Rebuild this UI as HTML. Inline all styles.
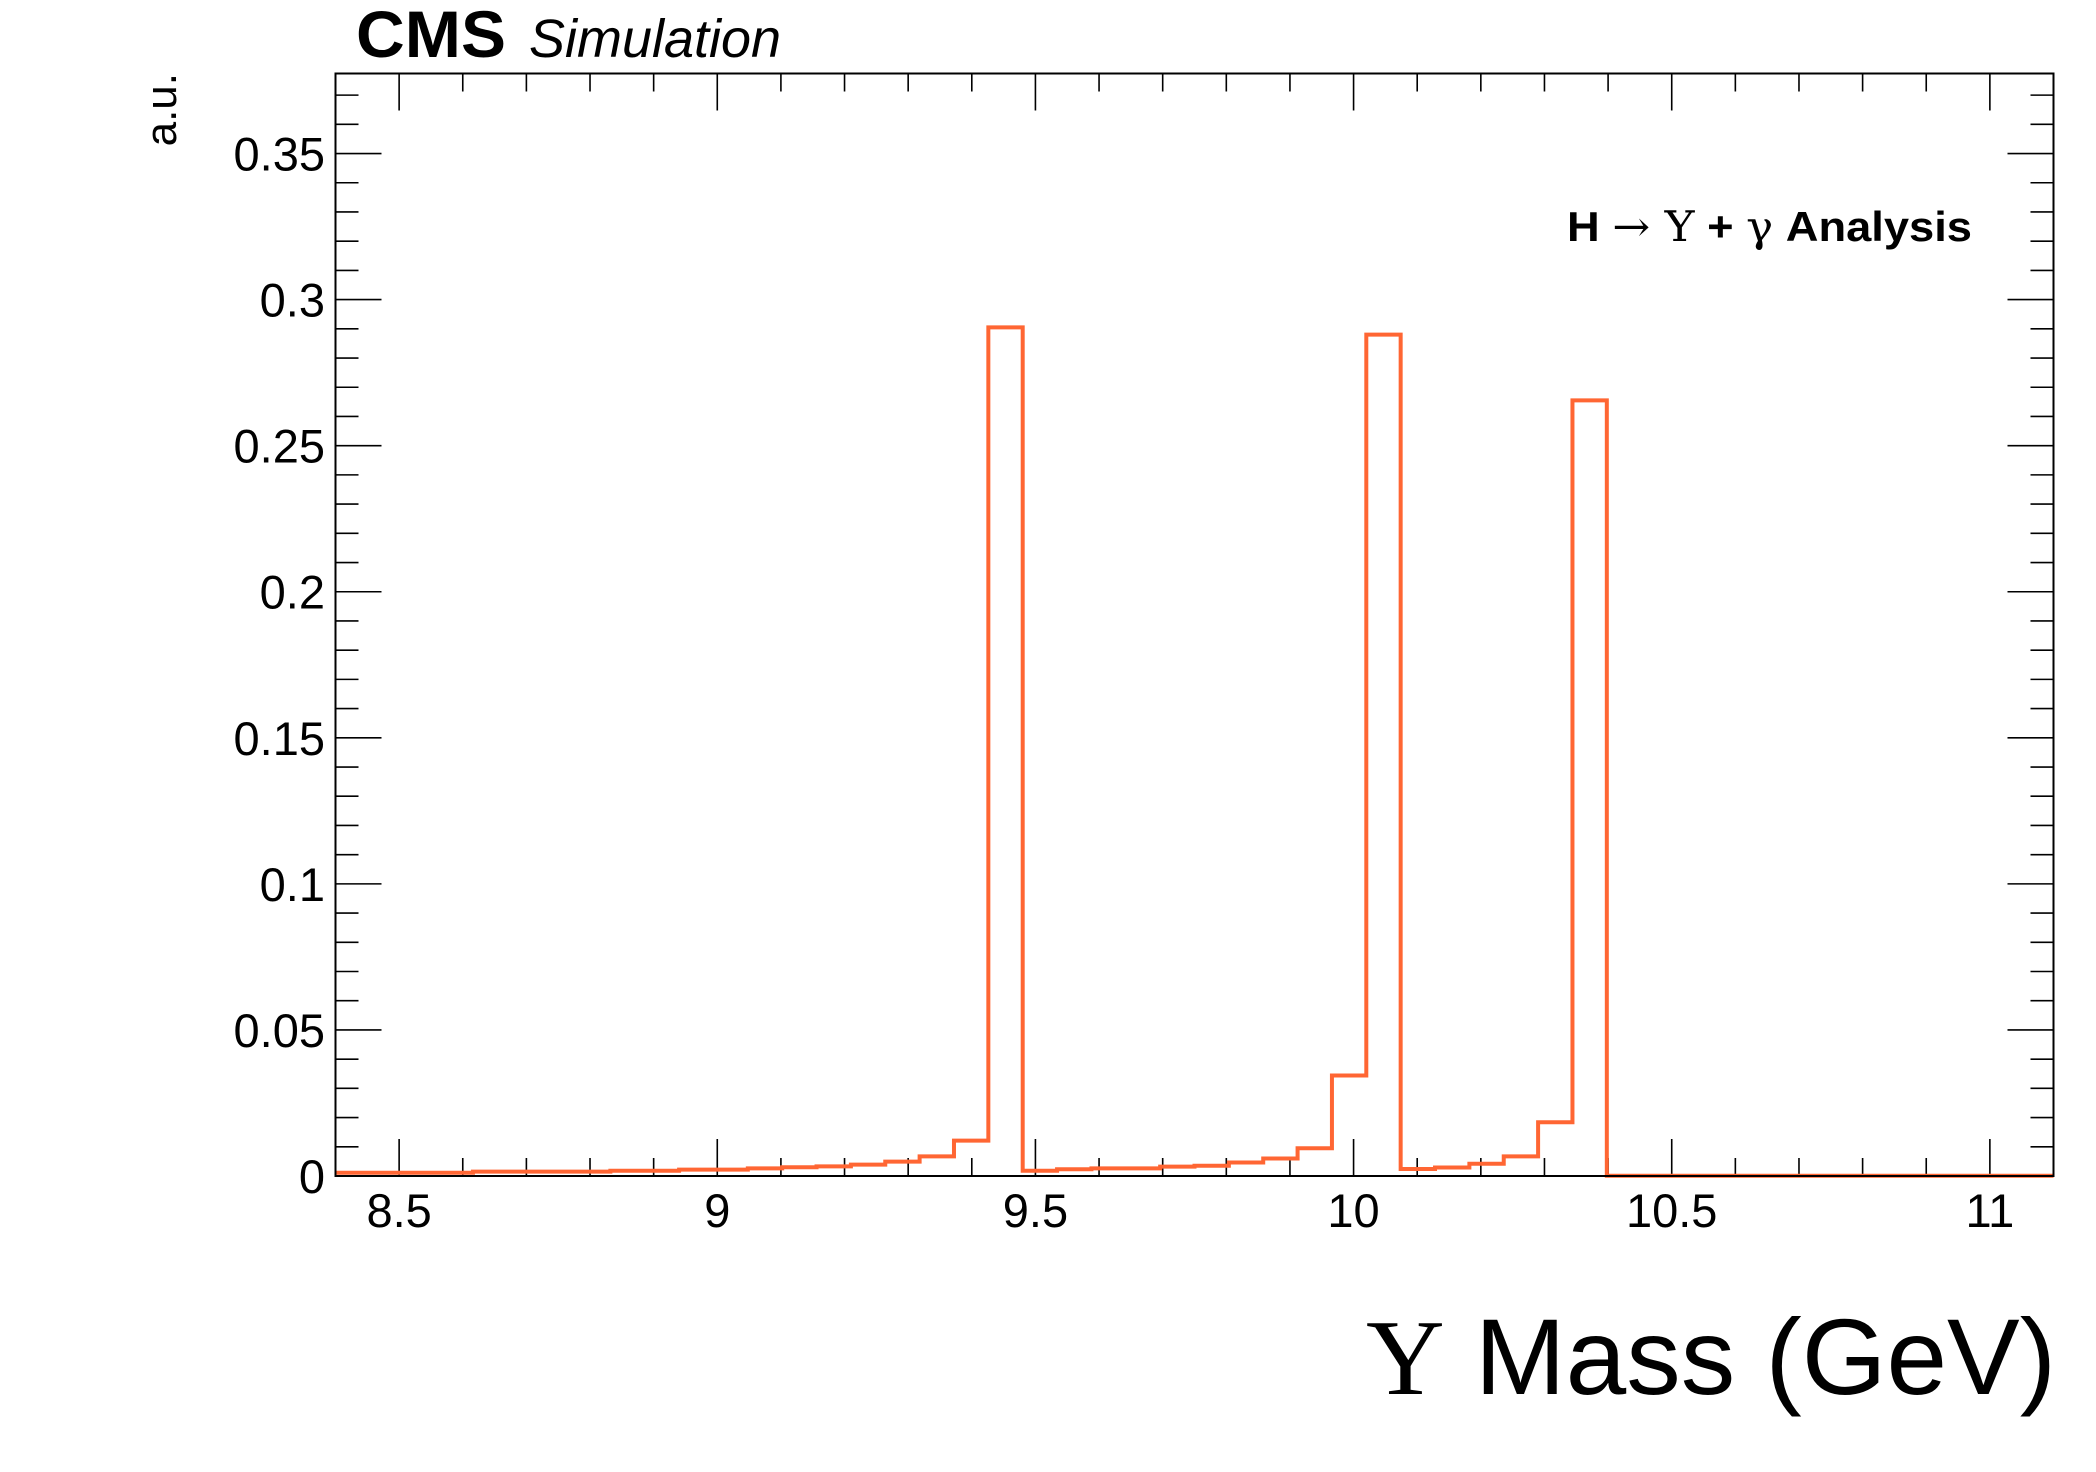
<!DOCTYPE html>
<html><head><meta charset="utf-8"><style>
html,body{margin:0;padding:0;background:#fff;}
svg{display:block;font-family:"Liberation Sans",sans-serif;}
</style></head><body>
<svg id="chart" width="2096" height="1472" viewBox="0 0 2096 1472" xmlns="http://www.w3.org/2000/svg">
<rect x="0" y="0" width="2096" height="1472" fill="#fff"/>
<g id="ticks"></g>
<g id="hist"></g>
<rect x="335.5" y="73.5" width="1718" height="1102.5" fill="none" stroke="#000" stroke-width="2"/>
<g id="labels"></g>
<text x="356" y="57" font-size="66" font-weight="bold" textLength="150" lengthAdjust="spacingAndGlyphs">CMS</text>
<text x="529" y="57" font-size="54" font-style="italic" textLength="252" lengthAdjust="spacingAndGlyphs">Simulation</text>
<text transform="translate(176,73) rotate(-90)" text-anchor="end" font-size="44">a.u.</text>
<text x="1972" y="241" text-anchor="end" font-size="42" font-weight="bold" textLength="405" lengthAdjust="spacingAndGlyphs">H <tspan font-weight="normal" font-family="'DejaVu Serif',serif">→ Υ</tspan> + <tspan font-weight="normal" font-family="'DejaVu Serif',serif">γ</tspan> Analysis</text>
<text x="2056" y="1394" text-anchor="end" font-size="108" textLength="690" lengthAdjust="spacingAndGlyphs"><tspan font-family="'Liberation Serif',serif">Υ</tspan> Mass (GeV)</text>
</svg>
<script>
const binEdgesRange = [8.4, 11.1];
const nBins = 50;
const binValues = [0.0011,0.0011,0.0011,0.0011,0.0015,0.0015,0.0015,0.0015,0.0018,0.0018,
0.0022,0.0022,0.0026,0.0030,0.0033,0.0039,0.0049,0.0067,0.0121,0.2905,
0.0018,0.0023,0.0026,0.0026,0.0032,0.0035,0.0046,0.0060,0.0095,0.0344,
0.2880,0.0024,0.0029,0.0042,0.0067,0.0184,0.2655,0.0001,0.0001,0.0001,
0.0001,0.0001,0.0001,0.0001,0.0001,0.0001,0.0001,0.0001,0.0001,0.0001];
const xTickLabels = ["8.5","9","9.5","10","10.5","11"];
const yTickLabels = ["0","0.05","0.1","0.15","0.2","0.25","0.3","0.35"];
const yRange = [0, 0.3774];

const L=335.5,R=2053.5,T=73.5,B=1176;
const NS="http://www.w3.org/2000/svg";
function X(v){return L+(v-binEdgesRange[0])/(binEdgesRange[1]-binEdgesRange[0])*(R-L);}
function Y(v){return B-(v-yRange[0])/(yRange[1]-yRange[0])*(B-T);}
function mk(tag,attrs,parent){const e=document.createElementNS(NS,tag);for(const k in attrs)e.setAttribute(k,attrs[k]);parent.appendChild(e);return e;}
const tk=document.getElementById('ticks'),lb=document.getElementById('labels'),hg=document.getElementById('hist');
let d="";
for(let i=0;i<=27;i++){const v=8.4+i*0.1;const x=X(v);if(x>R+0.5)break;
 const major=Math.abs(v*2-Math.round(v*2))<1e-6;const len=major?37:18;
 d+=`M${x},${B}V${B-len}M${x},${T}V${T+len}`;}
for(let i=0;i<=37;i++){const v=i*0.01;const y=Y(v);if(y<T-0.5)break;
 const major=i%5===0;const len=major?46:23;
 d+=`M${L},${y}H${L+len}M${R},${y}H${R-len}`;}
const tp=mk('path',{d:d,stroke:'#000','stroke-width':1.6,fill:'none'},tk);


xTickLabels.forEach(s=>{const t=mk('text',{x:X(parseFloat(s)),y:1227,'text-anchor':'middle','font-size':47},lb);t.textContent=s;
 
 });
yTickLabels.forEach(s=>{const t=mk('text',{x:325,y:Y(parseFloat(s))+17,'text-anchor':'end','font-size':47},lb);t.textContent=s;
 
 });
const w=(binEdgesRange[1]-binEdgesRange[0])/nBins;
let p=`M${X(binEdgesRange[0])},${Y(binValues[0])}`;
binValues.forEach((v,i)=>{const x0=X(binEdgesRange[0]+i*w),x1=X(binEdgesRange[0]+(i+1)*w);p+=`L${x0},${Y(v)}L${x1},${Y(v)}`;});
const hp=mk('path',{d:p,stroke:'#ff6633','stroke-width':4,fill:'none'},hg);


</script>
</body></html>
